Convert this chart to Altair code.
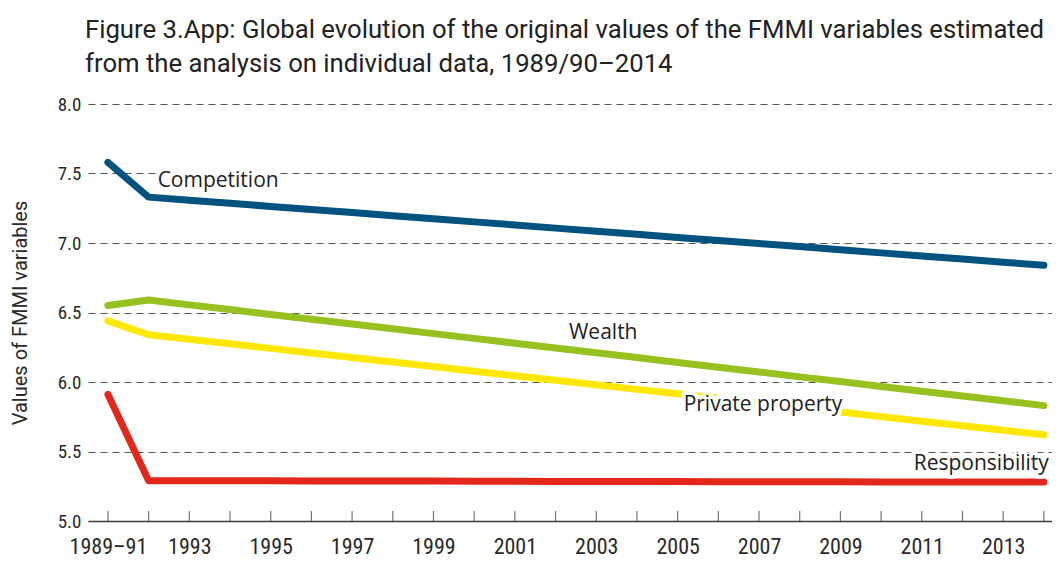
import altair as alt
import pandas as pd

categories = ["1989–91", "1992", "1993", "1994", "1995", "1996", "1997", "1998",
              "1999", "2000", "2001", "2002", "2003", "2004", "2005", "2006",
              "2007", "2008", "2009", "2010", "2011", "2012", "2013", "2014"]

competition = [7.580, 7.330, 7.308, 7.286, 7.263, 7.241, 7.219, 7.196, 7.174, 7.152, 7.130, 7.107,
               7.085, 7.063, 7.040, 7.018, 6.996, 6.974, 6.951, 6.929, 6.907, 6.885, 6.862, 6.840]
wealth = [6.550, 6.590, 6.555, 6.521, 6.486, 6.452, 6.417, 6.383, 6.348, 6.314, 6.279, 6.245,
          6.210, 6.176, 6.141, 6.106, 6.072, 6.037, 6.003, 5.968, 5.934, 5.899, 5.865, 5.830]
private_property = [6.440, 6.340, 6.307, 6.275, 6.242, 6.209, 6.176, 6.144, 6.111, 6.078, 6.045, 6.013,
                    5.980, 5.947, 5.915, 5.882, 5.849, 5.816, 5.784, 5.751, 5.718, 5.685, 5.653, 5.620]
responsibility = [5.910, 5.290, 5.290, 5.289, 5.289, 5.288, 5.288, 5.287, 5.287, 5.286, 5.286, 5.285,
                  5.285, 5.284, 5.284, 5.283, 5.283, 5.282, 5.282, 5.281, 5.281, 5.281, 5.280, 5.280]

series_names = ["Competition", "Wealth", "Private property", "Responsibility"]
series_colors = ["#00527f", "#97c11f", "#ffe800", "#e3271b"]

rows = []
for name, vals in zip(series_names, [competition, wealth, private_property, responsibility]):
    for i, (c, v) in enumerate(zip(categories, vals)):
        rows.append({"series": name, "cat": c, "pos": i, "value": v})
df = pd.DataFrame(rows)

cats_js = "[" + ",".join("'" + c + "'" for c in categories) + "]"
label_expr = f"datum.value % 2 == 0 ? {cats_js}[datum.value] : ''"

narrow = "Liberation Sans Narrow, Roboto Condensed, Roboto"

x_scale = alt.Scale(domain=[-0.49, 23.2], nice=False, zero=False)
y_scale = alt.Scale(domain=[5.0, 8.0], nice=False, zero=False)

x_enc = alt.X("pos:Q", scale=x_scale,
              axis=alt.Axis(values=list(range(len(categories))), labelExpr=label_expr,
                            title=None, grid=False, ticks=False, domain=True,
                            domainColor="#3a3a3a", domainWidth=1.6,
                            labelFont=narrow, labelFontSize=22, labelColor="#2a2a2a",
                            labelPadding=15, labelFlush=False))
y_enc = alt.Y("value:Q", scale=y_scale,
              axis=alt.Axis(values=[5.0, 5.5, 6.0, 6.5, 7.0, 7.5, 8.0], format=".1f",
                            title="Values of FMMI variables", titleFont="Roboto",
                            titleFontSize=20, titleFontWeight="normal", titleColor="#2a2a2a",
                            titlePadding=27,
                            grid=True, gridDash=[7, 5], gridColor="#555555", gridWidth=1,
                            ticks=False, domain=False,
                            labelFont=narrow, labelFontSize=19, labelColor="#2a2a2a",
                            labelPadding=7))

color_enc = alt.Color("series:N", scale=alt.Scale(domain=series_names, range=series_colors),
                      legend=None)

base = alt.Chart(df)

ticks = base.transform_filter(alt.datum.series == "Competition").transform_calculate(
    tickbase="5.0"
).mark_tick(
    orient="vertical", size=10, thickness=1.2, color="#3a3a3a", yOffset=-5
).encode(x=x_enc, y=alt.Y("tickbase:Q", scale=y_scale))

lines = base.mark_line(strokeWidth=7, strokeCap="round", strokeJoin="round").encode(
    x=x_enc, y=y_enc, color=color_enc, detail="series:N"
)

def label(series, cat, align, dx, dy):
    sel = base.transform_filter((alt.datum.series == series) & (alt.datum.cat == cat))
    common = dict(align=align, baseline="middle", dx=dx, dy=dy, font="Open Sans",
                  fontSize=21, fontWeight=500)
    halo = sel.mark_text(stroke="white", strokeWidth=8, strokeJoin="round",
                         fill="white", **common).encode(
        x="pos:Q", y="value:Q", text="series:N")
    txt = sel.mark_text(color="#222222", **common).encode(
        x="pos:Q", y="value:Q", text="series:N")
    return [halo, txt]

labels = []
labels += label("Competition", "1992", "left", 9, -16)
labels += label("Wealth", "2003", "center", 7, -20)
labels += label("Private property", "2005", "left", 6, 11)
labels += label("Responsibility", "2014", "right", 5, -18)

chart = alt.layer(ticks, lines, *labels).properties(
    width=964, height=417,
    title=alt.Title(
        ["Figure 3.App: Global evolution of the original values of the FMMI variables estimated",
         "from the analysis on individual data, 1989/90–2014"],
        anchor="start", frame="group", font="Roboto", fontSize=25.7, fontWeight="normal",
        color="#222222", lineHeight=34, offset=17, dx=-3),
    autosize=alt.AutoSizeParams(type="none"),
    padding={"left": 80, "top": 96, "right": 0, "bottom": 38},
).configure_view(stroke=None)

chart.save("out.html", embed_options={"renderer": "svg", "actions": False})
